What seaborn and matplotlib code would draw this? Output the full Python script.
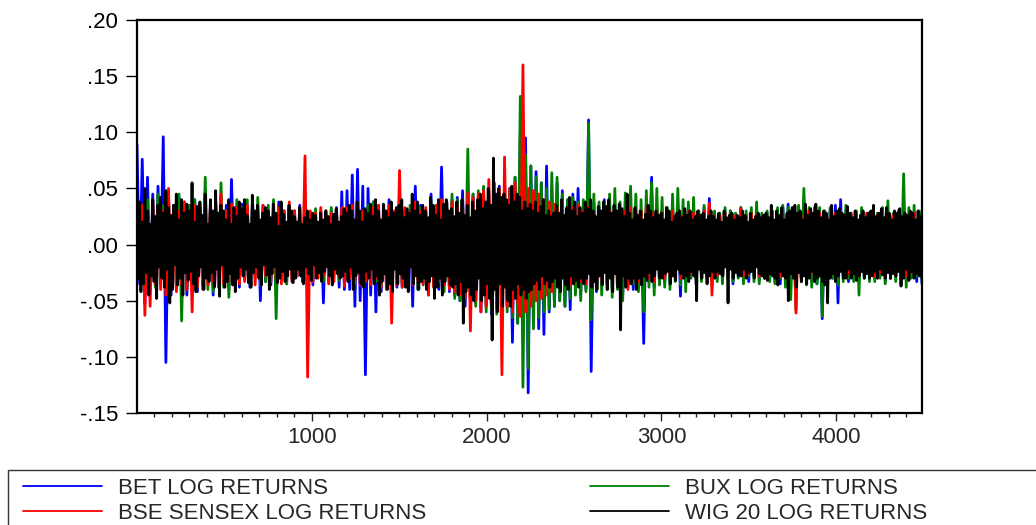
import numpy as np
import pandas as pd
import matplotlib
matplotlib.use("Agg")
import matplotlib.pyplot as plt
import seaborn as sns
from matplotlib.ticker import MultipleLocator, FuncFormatter
from matplotlib.lines import Line2D
from matplotlib.patches import Rectangle

# ---------------- data (log returns, in thousandths) -------------
N_OBS = 4490
series_names = ["BET LOG RETURNS", "BUX LOG RETURNS", "BSE SENSEX LOG RETURNS", "WIG 20 LOG RETURNS"]
series_colors = ["#0000FF", "#008000", "#FF0000", "#000000"]

bet_milli = [
    89, -35, 76, -53, 60, -40, 45, -38, 52, -30, 96, -105, 40, -45, 35, -38, 42, -30, 38, -45,
    35, -30, 40, -42, 33, -35, 48, -30, 38, -45, 30, -36, 42, -28, 35, -40, 58, -32, 30, -38,
    36, -30, 33, -38, 40, -28, 30, -50, 35, -33, 28, -36, 32, -30, 38, -28, 30, -35, 33, -30,
    30, -28, 35, -33, 25, -30, 28, -36, 22, -26, 30, -52, 27, -33, 30, -25, 33, -38, 47, -40,
    48, -40, 62, -55, 67, -50, 52, -116, 50, -45, 38, -60, 35, -42, 30, -36, 40, -33, 28, -38,
    33, -38, 30, -35, 28, -55, 52, -40, 35, -33, 30, -38, 45, -36, 32, -40, 69, -35, 38, -42,
    40, -45, 42, -50, 48, -55, 35, -48, 45, -52, 40, -60, 50, -55, 48, -62, 55, -58, 52, -65,
    45, -55, 50, -87, 60, -70, 100, -65, 95, -132, 70, -60, 65, -75, 55, -80, 70, -60, 48, -55,
    55, -50, 48, -55, 40, -58, 45, -38, 50, -45, 35, -40, 111, -113, 38, -42, 33, -36, 40, -35,
    35, -40, 33, -38, 30, -45, 38, -35, 32, -40, 28, -36, 30, -88, 35, -33, 60, -38, 30, -35,
    30, -33, 28, -35, 33, -30, 35, -46, 28, -33, 30, -28, 32, -35, 26, -30, 33, -28, 41, -30,
    28, -30, 25, -33, 28, -26, 30, -35, 25, -28, 33, -30, 27, -33, 25, -28, 30, -32, 26, -30,
    28, -26, 30, -33, 28, -35, 33, -30, 36, -32, 28, -35, 33, -30, 40, -28, 30, -33, 28, -35,
    30, -66, 28, -33, 30, -30, 35, -52, 40, -28, 30, -33, 26, -30, 28, -32, 30, -28, 26, -30,
    28, -30, 26, -28, 30, -33, 27, -30, 25, -28, 30, -26, 32, -30, 26, -28, 30, -33, 28, -35,
]

bux_milli = [
    30, -28, 35, -33, 40, -30, 33, -38, 45, -30, 35, -40, 42, -33, 30, -38, 45, -68, 35, -40,
    35, -30, 40, -38, 33, -36, 60, -40, 35, -42, 38, -33, 55, -38, 30, -47, 36, -33, 40, -35,
    33, -30, 40, -35, 38, -28, 42, -36, 30, -33, 35, -30, 40, -66, 33, -28, 30, -35, 32, -30,
    30, -25, 33, -28, 28, -35, 25, -30, 32, -26, 28, -33, 30, -25, 33, -28, 30, -32, 28, -30,
    32, -30, 28, -35, 33, -28, 30, -33, 35, -30, 38, -33, 30, -36, 35, -30, 33, -38, 30, -35,
    33, -35, 30, -38, 35, -30, 38, -40, 33, -36, 30, -45, 40, -38, 35, -33, 40, -42, 38, -36,
    45, -48, 40, -50, 38, -45, 85, -52, 45, -55, 48, -50, 52, -60, 45, -58, 55, -62, 50, -65,
    55, -60, 48, -65, 60, -70, 132, -127, 80, -110, 70, -75, 60, -65, 55, -60, 50, -58, 64, -55,
    60, -50, 45, -55, 40, -48, 42, -45, 38, -50, 40, -42, 108, -67, 45, -40, 38, -45, 35, -40,
    45, -47, 50, -40, 38, -50, 46, -38, 52, -35, 45, -42, 40, -60, 48, -38, 55, -45, 50, -36,
    42, -38, 33, -40, 45, -33, 50, -36, 40, -42, 38, -30, 42, -36, 30, -33, 35, -30, 33, -36,
    30, -33, 28, -35, 33, -30, 30, -33, 28, -30, 33, -35, 30, -28, 33, -33, 38, -35, 28, -30,
    30, -33, 28, -35, 33, -30, 35, -38, 33, -49, 30, -58, 35, -33, 50, -36, 33, -38, 30, -35,
    33, -64, 30, -35, 33, -30, 28, -36, 30, -33, 35, -30, 28, -33, 30, -45, 33, -30, 28, -33,
    30, -33, 28, -30, 33, -35, 39, -30, 28, -33, 30, -35, 63, -38, 33, -30, 35, -28, 30, -33,
]

bse_milli = [
    28, -25, 35, -63, 30, -55, 40, -35, 33, -40, 30, -45, 50, -38, 35, -42, 30, -36, 38, -40,
    30, -60, 35, -38, 33, -40, 30, -36, 38, -33, 35, -38, 45, -35, 30, -33, 36, -30, 33, -35,
    30, -33, 35, -30, 28, -36, 33, -30, 35, -28, 30, -33, 36, -30, 33, -35, 30, -28, 38, -33,
    30, -28, 33, -30, 79, -118, 30, -33, 28, -30, 33, -28, 30, -35, 28, -33, 30, -28, 33, -37,
    33, -30, 35, -33, 31, -36, 30, -33, 28, -36, 33, -30, 35, -38, 30, -40, 35, -70, 30, -36,
    66, -38, 33, -35, 30, -36, 38, -33, 30, -35, 33, -45, 30, -38, 35, -33, 40, -36, 33, -40,
    38, -42, 35, -45, 40, -48, 46, -77, 42, -50, 45, -60, 48, -55, 58, -52, 45, -58, 50, -116,
    78, -55, 50, -60, 55, -50, -64, 160, -60, 50, -55, 48, -50, 45, -48, 40, -45, 38, -42, 36,
    33, -38, 35, -33, 30, -36, 33, -30, 35, -33, 30, -35, 33, -30, 28, -33, 30, -32, 37, -30,
    30, -33, 28, -30, 33, -28, 30, -40, 33, -30, 28, -33, 30, -28, 33, -30, 28, -33, 30, -28,
    28, -30, 25, -28, 30, -26, 28, -30, 25, -28, 30, -25, 28, -30, 26, -28, 30, -25, 37, -45,
    25, -28, 26, -25, 28, -26, 25, -28, 26, -25, 32, -28, 25, -26, 28, -25, 26, -28, 25, -26,
    26, -25, 28, -26, 25, -28, 26, -30, 28, -26, 25, -61, 28, -30, 26, -28, 30, -25, 33, -28,
    28, -25, 26, -28, 25, -26, 28, -25, 26, -28, 25, -26, 28, -25, 26, -28, 25, -26, 28, -25,
    25, -28, 26, -25, 28, -26, 25, -28, 26, -25, 28, -26, 25, -28, 26, -25, 28, -26, 25, -28,
]

wig_milli = [
    45, -30, 38, -42, 20, -35, 50, -25, 30, -45, 18, -28, 40, -33, 25, -48, 35, -20, 42, -30,
    28, -38, 48, -22, 33, -52, 26, -40, 35, -18, 45, -36, 22, -30, 40, -45, 28, -25, 36, -32,
    30, -24, 55, -35, 20, -42, 34, -28, 38, -20, 26, -40, 45, -30, 18, -33, 40, -25, 30, -38,
    48, -22, 28, -46, 35, -18, 30, -38, 22, -33, 40, -26, 18, -36, 33, -42, 25, -30, 38, -20,
    32, -28, 40, -22, 26, -34, 18, -38, 44, -25, 30, -20, 35, -30, 22, -36, 28, -18, 33, -27,
    30, -40, 24, -26, 36, -20, 28, -34, 16, -30, 38, -24, 27, -33, 20, -28, 35, -22, 30, -34,
    25, -30, 20, -22, 33, -28, 18, -35, 24, -20, 30, -26, 22, -32, 28, -18, 26, -30, 20, -25,
    28, -33, 22, -24, 30, -20, 25, -28, 18, -36, 27, -22, 32, -26, 20, -30, 25, -28, 32, -24,
    28, -33, 35, -20, 30, -40, 22, -28, 38, -25, 30, -35, 20, -38, 32, -24, 28, -30, 36, -22,
    25, -35, 40, -28, 30, -45, 22, -33, 36, -26, 30, -40, 24, -35, 38, -42, 28, -22, 33, -35,
    35, -26, 40, -30, 24, -38, 32, -42, 28, -20, 45, -35, 30, -28, 38, -40, 26, -33, 35, -30,
    30, -40, 24, -33, 42, -28, 35, -48, 26, -38, 40, -30, 22, -45, 36, -33, 40, -28, 30, -36,
    32, -38, 25, -35, 38, -45, 28, -33, 40, -70, 26, -42, 35, -38, 24, -45, 38, -50, 30, -40,
    40, -30, 45, -50, 32, -45, 38, -35, 50, -48, 35, -85, 77, -40, 45, -60, 50, -35, 42, -55,
    45, -38, 40, -50, 35, -55, 52, -40, 38, -48, 45, -35, 42, -45, 30, -40, 38, -48, 32, -42,
    36, -40, 30, -35, 38, -32, 28, -40, 34, -28, 40, -35, 26, -32, 30, -38, 25, -33, 28, -30,
    35, -38, 28, -42, 40, -30, 26, -36, 33, -40, 42, -28, 30, -35, 38, -32, 25, -38, 33, -30,
    28, -35, 38, -30, 32, -26, 40, -38, 30, -33, 25, -40, 34, -28, 30, -36, 38, -25, 34, -40,
    40, -30, 28, -42, 35, -26, 30, -38, 36, -76, 32, -28, 25, -38, 45, -30, 28, -35, 22, -30,
    33, -40, 26, -30, 30, -36, 22, -28, 27, -32, 35, -25, 30, -33, 24, -28, 30, -22, 26, -30,
    28, -30, 22, -26, 33, -24, 30, -35, 20, -28, 25, -32, 28, -22, 30, -26, 24, -30, 32, -28,
    26, -33, 30, -24, 22, -28, 25, -50, 30, -22, 26, -30, 28, -25, 22, -35, 25, -28, 30, -24,
    25, -30, 22, -24, 28, -26, 20, -28, 30, -20, 24, -52, 26, -22, 28, -30, 22, -25, 26, -28,
    24, -28, 30, -22, 26, -30, 20, -25, 28, -24, 22, -30, 25, -20, 28, -26, 24, -28, 26, -30,
    28, -32, 24, -26, 35, -28, 22, -30, 30, -36, 26, -24, 33, -28, 22, -30, 28, -50, 30, -26,
    33, -30, 35, -38, 28, -25, 30, -33, 22, -28, 36, -35, 26, -30, 32, -24, 28, -33, 36, -30,
    30, -28, 24, -33, 30, -36, 28, -52, 22, -30, 35, -26, 25, -33, 30, -28, 32, -24, 28, -30,
    26, -30, 34, -22, 28, -30, 24, -26, 30, -32, 22, -28, 26, -24, 30, -30, 24, -26, 28, -30,
    30, -28, 35, -24, 25, -30, 28, -22, 32, -27, 24, -30, 33, -25, 28, -30, 22, -26, 30, -28,
    28, -24, 32, -37, 25, -30, 28, -22, 26, -32, 30, -24, 28, -30, 22, -26, 30, -28, 25, -30,
]

y_ticks = [-0.15, -0.10, -0.05, 0.00, 0.05, 0.10, 0.15, 0.20]
x_ticks = [1000, 2000, 3000, 4000]

# ---------------- build long-form table ----------------
frames = []
for name, vals in zip(series_names, [bet_milli, bux_milli, bse_milli, wig_milli]):
    v = np.asarray(vals, dtype=float) / 1000.0
    obs = np.linspace(1, N_OBS, len(v))
    frames.append(pd.DataFrame({"obs": obs, "ret": v, "series": name}))
df = pd.concat(frames, ignore_index=True)

# ---------------- figure ----------------
sns.set_style("ticks")
plt.rcParams["font.family"] = ["Liberation Sans", "DejaVu Sans"]

W, H = 1036, 525
fig = plt.figure(figsize=(W / 100, H / 100), dpi=100)
ax = fig.add_axes([137 / W, 1 - 413 / H, (922 - 137) / W, (413 - 20) / H])

sns.lineplot(data=df, x="obs", y="ret", hue="series", hue_order=series_names,
             palette=dict(zip(series_names, series_colors)), estimator=None,
             sort=False, legend=False, linewidth=2.0, ax=ax)

ax.set_xlim(1, N_OBS)
ax.set_ylim(-0.15, 0.20)
ax.set_xlabel("")
ax.set_ylabel("")
ax.set_yticks(y_ticks)
ax.set_xticks(x_ticks)
ax.xaxis.set_minor_locator(MultipleLocator(100))
ax.yaxis.set_major_formatter(FuncFormatter(lambda v, p: f"{v:.2f}".replace("0.", ".", 1)))
ax.xaxis.set_major_formatter(FuncFormatter(lambda v, p: f"{int(round(v))}"))

for s in ax.spines.values():
    s.set_visible(True)
    s.set_linewidth(1.6)
    s.set_color("black")

ax.tick_params(axis="y", direction="out", length=8, width=1.0, pad=5.5, labelsize=16, colors="black")
ax.tick_params(axis="x", which="major", direction="out", length=6, width=1.0, pad=4, labelsize=16)
ax.tick_params(axis="x", which="minor", direction="out", length=3, width=1.0)

# ---------------- legend (two columns) ----------------
fs_px = 16 / 72 * 100
legend_cols = [[0, 2], [1, 3]]
col_x = [23, 590]
for col, xpx in zip(legend_cols, col_x):
    handles = [Line2D([], [], color=series_colors[i], lw=1.3) for i in col]
    labels = [series_names[i] for i in col]
    fig.legend(handles, labels, loc="upper left",
               bbox_to_anchor=(xpx / W, 1 - 478 / H),
               bbox_transform=fig.transFigure, frameon=False,
               fontsize=16, borderpad=0, borderaxespad=0,
               handlelength=79 / fs_px, handletextpad=16 / fs_px,
               labelspacing=0.19)

fig.patches.append(Rectangle((8 / W, -0.1), 1.2, (525 - 470) / H + 0.1,
                             transform=fig.transFigure, fill=False,
                             edgecolor="#333333", linewidth=1.0))

fig.savefig("out.png", dpi=100)
